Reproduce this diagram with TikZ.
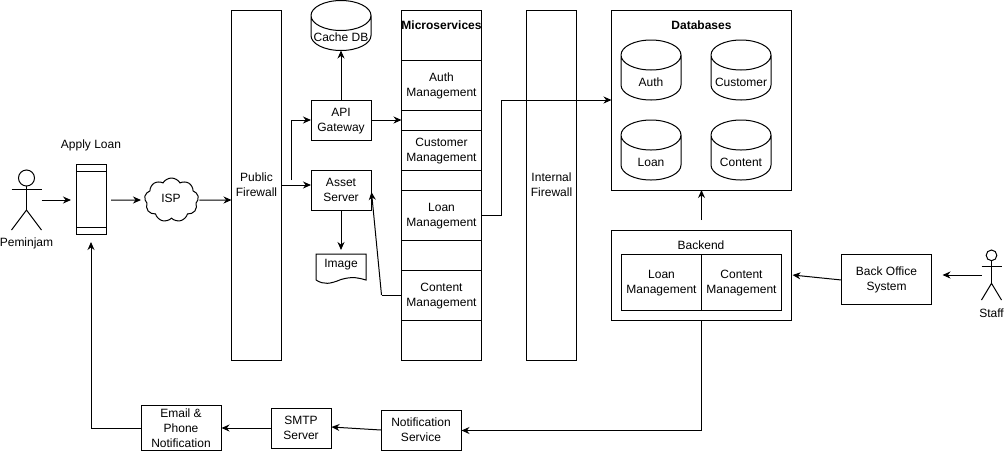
\documentclass[tikz,border=0pt]{standalone}
\usepackage{fontspec}
\setmainfont{Liberation Sans}
\usetikzlibrary{arrows.meta,calc,shapes.symbols}

\tikzset{
  box/.style={draw, rectangle, align=center, inner sep=0pt, outer sep=0pt, text depth=-1pt},
  plain/.style={inner sep=0pt, outer sep=0pt, align=center},
  link/.style={-{Stealth[length=8pt,width=7pt]}, line width=1pt},
  line/.style={line width=1pt},
  every node/.append style={font=\fontsize{12}{15}\selectfont, line width=1pt}
}

% database drum, text sits in the lower part
\newcommand{\dbdrum}[5]{
  \node[plain, minimum width=60pt, minimum height=#4pt, label={[yshift=-12pt, font=\fontsize{12}{15}\selectfont]center:#5}] (#1) at (#2,#3) {};
  \draw[line] ($(#1.north west)+(0,15)$) arc[start angle=180, end angle=-180, x radius=30pt, y radius=15pt]
    -- ($(#1.south west)+(0,-15)$) arc[start angle=180, end angle=360, x radius=30pt, y radius=15pt]
    -- ($(#1.north east)+(0,15)$);
}

% stick figure
\newcommand{\person}[5]{
  \node[plain, minimum width=#4pt, minimum height=#5pt] (#1) at (#2,#3) {};
  \draw[line] ($(#1.north)+(0,#4*0.267)$) circle[radius=#4*0.267pt];
  \draw[line] ($(#1.north)+(0,#4*0.533)$) -- ($(#1.north)+(0,#5*0.667)$);
  \draw[line] ($(#1.north west)+(0,#5*0.333)$) -- ($(#1.north east)+(0,#5*0.333)$);
  \draw[line] (#1.south west) -- ($(#1.north)+(0,#5*0.667)$) -- (#1.south east);
}

\begin{document}
\begin{tikzpicture}[x=1pt, y=-1pt]
  \useasboundingbox (0,0) rectangle (1004,451);

  % left side
  \person{peminjam}{26.5}{200}{30}{60}
  \node[plain] (peminjamtext) at (26.5,243) {Peminjam};
  \node[plain] (applytext) at (91,145) {Apply Loan};
  \node[box, minimum width=30pt, minimum height=70pt] (phone) at (91,199) {};
  \draw[line] ($(phone.north west)+(0,7)$) -- ($(phone.north east)+(0,7)$);
  \draw[line] ($(phone.south west)+(0,-7)$) -- ($(phone.south east)+(0,-7)$);
  \node[draw, cloud, cloud puffs=9, cloud puff arc=120, aspect=1.3, inner sep=0pt, outer sep=0pt, minimum width=54pt, minimum height=44pt] (isp) at (171.5,200) {};
  \node[plain] (isptext) at (171,198.5) {ISP};

  % firewalls
  \node[box, minimum width=50pt, minimum height=350pt] (pubfw) at (256.5,185) {Public\\Firewall};
  \node[box, minimum width=50pt, minimum height=350pt] (intfw) at (551.5,185) {Internal\\Firewall};

  % gateway column
  \dbdrum{cachedb}{341}{25.5}{50}{Cache DB}
  \node[box, minimum width=60pt, minimum height=40pt] (api) at (341,120) {API\\Gateway};
  \node[box, minimum width=60pt, minimum height=40pt] (asset) at (341,190) {Asset\\Server};
  \node[plain, minimum width=50pt, minimum height=26pt] (image) at (341,267) {};
  \node[plain] (imagetext) at (341,265) {Image};
  \draw[line] (image.south west) -- (image.north west) -- (image.north east) -- (image.south east)
    .. controls (359,278) and (353,276) .. (341,279.5) .. controls (330,284) and (324,285) .. (image.south west);

  % microservices column
  \node[box, minimum width=80pt, minimum height=350pt] (micro) at (441.5,185) {};
  \node[plain] (microtext) at (441.5,25) {\bfseries Microservices};
  \node[box, minimum width=80pt, minimum height=50pt] (auth) at (441.5,85) {Auth\\Management};
  \node[box, minimum width=80pt, minimum height=40pt] (customer) at (441.5,150) {Customer\\Management};
  \node[box, minimum width=80pt, minimum height=50pt] (loan) at (441.5,215) {Loan\\Management};
  \node[box, minimum width=80pt, minimum height=50pt] (content) at (441.5,295) {Content\\Management};

  % databases
  \node[box, minimum width=180pt, minimum height=180pt] (databases) at (701.5,100) {};
  \node[plain] (databasestext) at (701.5,25) {\bfseries Databases};
  \dbdrum{authdb}{651}{70}{60}{Auth}
  \dbdrum{customerdb}{741}{70}{60}{Customer}
  \dbdrum{loandb}{651}{150}{60}{Loan}
  \dbdrum{contentdb}{741}{150}{60}{Content}

  % backend
  \node[box, minimum width=180pt, minimum height=90pt] (backend) at (701.5,275) {};
  \node[plain] (backendtext) at (701,245) {Backend};
  \node[box, minimum width=80pt, minimum height=56pt] (backloan) at (661.5,282) {Loan\\Management};
  \node[box, minimum width=80pt, minimum height=56pt] (backcontent) at (741.5,282) {Content\\Management};
  \node[box, minimum width=90pt, minimum height=50pt] (backoffice) at (886.5,279) {Back Office\\System};
  \person{staff}{991.5}{275}{20}{50}
  \node[plain] (stafftext) at (991.5,313) {Staff};

  % bottom row
  \node[box, minimum width=80pt, minimum height=40pt] (notif) at (421,430) {Notification\\Service};
  \node[box, minimum width=60pt, minimum height=40pt] (smtp) at (301,428) {SMTP\\Server};
  \node[box, minimum width=80pt, minimum height=45pt] (email) at (181,428) {Email \&\\Phone\\Notification};

  % free ends
  \coordinate (fwout) at (281.5,185);
  \coordinate (fwsplit) at (291.5,180);
  \coordinate (contentbend) at (381.5,295);
  \coordinate (dbin) at (501.5,100);
  \coordinate (backendup) at (701.5,220);
  \coordinate (phonein) at (91,242);
  \coordinate (backendcorner) at (701.5,430.5);
  \coordinate (emailcorner) at (91,428);

  % connectors
  \draw[link] (peminjam.east) -- ($(phone.west |- peminjam)+(-5,0)$);
  \draw[link] ($(phone.east |- isp)+(5,0)$) -- ($(isp.west)+(-4,0)$);
  \draw[link] ($(isp.east)+(1.5,0)$) -- (pubfw.west |- isp);
  \draw[link] (fwsplit) |- (api.west);
  \draw[link] (fwout) -- (asset.west |- fwout);
  \draw[link] (api.north) -- (cachedb.south);
  \draw[link] (api.east) -- (micro.west |- api.east);
  \draw[link] (asset.south) -- ($(image.north)+(0,-4)$);
  \draw[line] (content.west) -- (contentbend);
  \draw[link] (contentbend) -- ($(asset.east)+(0.5,2)$);
  \draw[line] (loan.east) -| (dbin);
  \draw[link] (dbin) -- (databases.west |- dbin);
  \draw[link] (backendup) -- (databases.south);
  \draw[link] ($(backoffice.west)+(0,1)$) -- ($(backend.east)+(1,0)$);
  \draw[link] (staff.west) -- ($(backoffice.east |- staff)+(11,0)$);
  \draw[line] (backend.south) -- (backendcorner);
  \draw[link] (backendcorner) -- ($(notif.east)+(0.5,0.5)$);
  \draw[link] (notif.west) -- ($(smtp.east)+(0.5,-1)$);
  \draw[link] (smtp.west) -- ($(email.east)+(0.5,0)$);
  \draw[line] (email.west) -- (emailcorner);
  \draw[link] (emailcorner) -- (phonein);
\end{tikzpicture}
\end{document}
